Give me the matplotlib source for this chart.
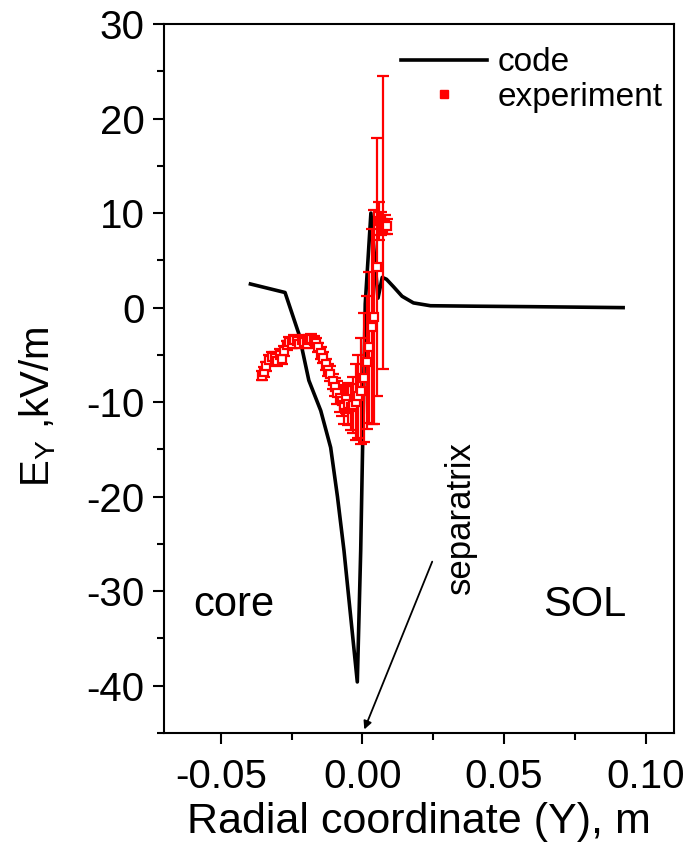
import matplotlib
matplotlib.use("Agg")
import matplotlib.pyplot as plt
from matplotlib.lines import Line2D

plt.rcParams['font.family'] = ['Liberation Sans', 'DejaVu Sans']
plt.rcParams['mathtext.default'] = 'regular'
plt.rcParams['axes.unicode_minus'] = False

# --- calculated profile (code) ---
code_x = [-0.0395, -0.0273, -0.0224, -0.0189, -0.0147, -0.0112, -0.0088, -0.0065,
          -0.0018, -0.0006, 0.0010, 0.0030, 0.0055, 0.0070, 0.0085, 0.0110,
          0.0140, 0.0180, 0.0240, 0.0400, 0.0600, 0.0920]
code_y = [2.5, 1.6, -2.8, -7.7, -10.9, -14.8, -20.0, -25.7,
          -39.6, -25.7, 0.4, 10.0, 1.0, 3.2, 3.0, 2.2,
          1.2, 0.5, 0.2, 0.15, 0.1, 0.0]

# --- measured profile (experiment) ---
exp_x = [-0.0355, -0.0348, -0.0340, -0.0330, -0.0320, -0.0310, -0.0300, -0.0292,
         -0.0283, -0.0275, -0.0266, -0.0258, -0.0250, -0.0240, -0.0230, -0.0222,
         -0.0213, -0.0205, -0.0196, -0.0188, -0.0180, -0.0172, -0.0164, -0.0155,
         -0.0147, -0.0139, -0.0130, -0.0122, -0.0114, -0.0105, -0.0097, -0.0089,
         -0.0080, -0.0072, -0.0064, -0.0059, -0.0050, -0.0041, -0.0032, -0.0023,
         -0.0015, -0.0006, 0.0006, 0.0015, 0.0024, 0.0035, 0.0041, 0.0053,
         0.0059, 0.0065, 0.0071, 0.0080, 0.0088]
exp_y = [-7.2, -6.8, -6.2, -5.5, -5.2, -5.3, -5.6, -5.0,
         -5.4, -4.6, -4.0, -3.6, -3.8, -3.4, -3.5, -3.8,
         -3.4, -3.6, -3.8, -3.4, -3.3, -3.5, -3.7, -4.2,
         -4.8, -5.3, -6.0, -6.6, -7.0, -7.8, -8.4, -9.0,
         -9.6, -9.9, -10.3, -9.7, -10.2, -10.5, -10.3, -10.0,
         -9.4, -8.8, -7.4, -5.8, -4.2, -2.0, -1.0, 4.3,
         9.2, 8.9, 9.0, 8.8, 8.6]
exp_err = [0.5, 0.5, 0.5, 0.5, 0.5, 0.6, 0.6, 0.6,
           0.6, 0.5, 0.5, 0.5, 0.5, 0.5, 0.5, 0.5,
           0.5, 0.5, 0.5, 0.5, 0.5, 0.5, 0.5, 0.5,
           0.6, 0.6, 0.6, 0.6, 0.8, 0.8, 1.0, 1.2,
           1.4, 1.6, 2.0, 1.4, 2.2, 2.4, 3.0, 4.0,
           4.4, 5.6, 6.8, 7.0, 8.0, 10.3, 11.3, 13.6,
           2.0, 1.2, 15.5, 1.0, 0.8]

fig = plt.figure(figsize=(6.95, 8.59), dpi=100)
ax = fig.add_axes([0.236, 0.1467, 0.734, 0.8253])

ax.plot(code_x, code_y, color='black', lw=2.6, solid_joinstyle='round', zorder=3)
ax.errorbar(exp_x, exp_y, yerr=exp_err, fmt='s', color='red', ecolor='red',
            mfc='white', mec='red', ms=6, mew=1.6, elinewidth=1.6,
            capsize=4, capthick=1.6, zorder=4)

ax.set_xlim(-0.07, 0.11)
ax.set_ylim(-45, 30)
ax.set_xticks([-0.05, 0.0, 0.05, 0.10])
ax.set_xticklabels(['-0.05', '0.00', '0.05', '0.10'])
ax.set_xticks([-0.025, 0.025, 0.075], minor=True)
ax.set_yticks(range(-40, 31, 10))
ax.set_yticks(range(-45, 30, 10), minor=True)

for s in ax.spines.values():
    s.set_linewidth(1.5)
ax.tick_params(which='major', direction='out', length=8, width=1.5, labelsize=29, pad=6)
ax.tick_params(axis='x', which='major', pad=10)
ax.tick_params(which='minor', direction='out', length=5, width=1.5)

ax.set_xlabel('Radial coordinate (Y), m', fontsize=31, labelpad=4)
ax.set_ylabel(r'E$_Y$ ,kV/m', fontsize=29)
ax.yaxis.set_label_coords(-0.208, 0.46)

ax.text(-0.0454, -31.5, 'core', fontsize=30, ha='center', va='center')
ax.text(0.0783, -31.5, 'SOL', fontsize=30, ha='center', va='center')
ax.text(0.0345, -22.2, 'separatrix', fontsize=25, rotation=90, ha='center', va='center')
ax.annotate('', xy=(0.0003, -44.9), xytext=(0.0250, -26.6),
            arrowprops=dict(arrowstyle='-|>', color='black', lw=1.3,
                            mutation_scale=12))

handles = [Line2D([], [], color='black', lw=2.6),
           Line2D([], [], ls='none', marker='s', color='red', ms=6)]
ax.legend(handles, ['code', 'experiment'], loc='upper left',
          bbox_to_anchor=(0.418, 1.0), frameon=False, fontsize=24,
          handlelength=2.6, handletextpad=0.3, labelspacing=0.1, borderpad=0.2)

fig.savefig('out.png', dpi=100)
